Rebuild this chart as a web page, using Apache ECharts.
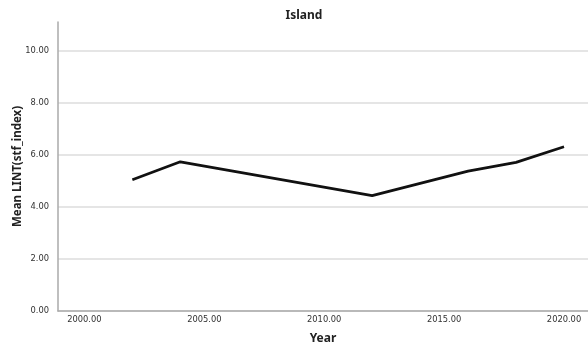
<!DOCTYPE html>
<html><head><meta charset="utf-8">
<script src="https://cdn.jsdelivr.net/npm/echarts@6/dist/echarts.min.js"></script>
<style>html,body{margin:0;padding:0;background:#fff}#c{width:588px;height:349px}</style>
</head><body><div id="c"></div>
<script>
const years = [2002, 2004, 2012, 2016, 2018, 2020];
const meanValues = [5.04, 5.73, 4.43, 5.37, 5.71, 6.31];
const xTicks = [2000, 2005, 2010, 2015, 2020];
const yTicks = [0, 2, 4, 6, 8, 10];
const chartTitle = 'Island';
const xName = 'Year';
const yName = 'Mean LINT(stf_index)';

const font = 'DejaVu Sans, Noto Sans, sans-serif';
const nameFont = 'Noto Sans, DejaVu Sans, sans-serif';
const chart = echarts.init(document.getElementById('c'), null, {renderer: 'canvas'});
chart.setOption({
  animation: false,
  backgroundColor: '#fff',
  title: {
    text: chartTitle, left: 299, top: 5, textAlign: 'center',
    textStyle: {fontFamily: nameFont, fontSize: 12, fontWeight: 'bold', color: '#222'}
  },
  grid: {left: 58, right: 0, top: 22, bottom: 38, containLabel: false, outerBoundsMode: 'none'},
  xAxis: {
    type: 'value', min: 1998.9, max: 2021,
    name: xName, nameLocation: 'middle', nameGap: 22, nameMoveOverlap: false,
    nameTextStyle: {fontFamily: nameFont, fontSize: 12, fontWeight: 'bold', color: '#222'},
    axisLine: {show: true, lineStyle: {color: '#aaa', width: 1.5}},
    axisTick: {show: false, customValues: xTicks},
    axisLabel: {customValues: xTicks, formatter: v => v.toFixed(2), fontFamily: font, fontSize: 8.3, color: '#333', margin: 5},
    splitLine: {show: false}
  },
  yAxis: {
    type: 'value', min: 0, max: 11.1,
    name: yName, nameLocation: 'middle', nameGap: 34, nameRotate: 90, nameMoveOverlap: false,
    nameTextStyle: {fontFamily: nameFont, fontSize: 11.5, fontWeight: 'bold', color: '#222'},
    axisLine: {show: true, lineStyle: {color: '#aaa', width: 1.5}},
    axisTick: {show: false, customValues: yTicks},
    axisLabel: {customValues: yTicks, formatter: v => v.toFixed(2), fontFamily: font, fontSize: 8.3, color: '#333', margin: 9},
    splitLine: {show: true, lineStyle: {color: '#dcdcdc', width: 1.5}}
  },
  series: [{
    type: 'line',
    data: years.map((y, i) => [y, meanValues[i]]),
    showSymbol: false,
    lineStyle: {color: '#111', width: 2.8},
    itemStyle: {color: '#111'}
  }]
});
</script></body></html>
